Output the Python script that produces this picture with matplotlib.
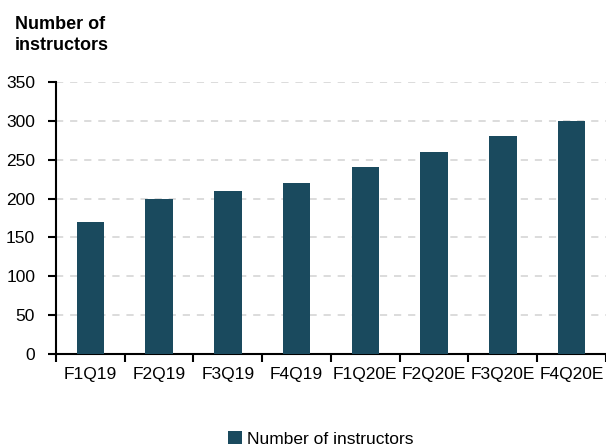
import numpy as np
import matplotlib
matplotlib.use('Agg')
from matplotlib import pyplot as plt

quarters = ['F1Q19', 'F2Q19', 'F3Q19', 'F4Q19', 'F1Q20E', 'F2Q20E', 'F3Q20E', 'F4Q20E']
instructors = [170, 200, 210, 220, 240, 260, 280, 300]
y_ticks = [0, 50, 100, 150, 200, 250, 300, 350]

plt.rcParams['font.family'] = ['Liberation Sans', 'DejaVu Sans']
bar_color = '#1a4a5e'

fig = plt.figure(figsize=(6.06, 4.48), dpi=100)
ax = fig.add_axes([0.0924, 0.2098, 0.9076, 0.6072])

x = np.arange(len(quarters))
ax.bar(x, instructors, width=0.4, color=bar_color, label='Number of instructors', zorder=3)

ax.set_xlim(-0.5, len(quarters) - 0.5)
ax.set_ylim(0, 350)
ax.set_yticks(y_ticks)
ax.tick_params(axis='y', labelsize=12.5, length=6, width=1.5, direction='out', pad=9)

# category labels centred under bars, tick marks on the boundaries
ax.set_xticks(np.arange(len(quarters) + 1) - 0.5)
ax.set_xticklabels([])
ax.set_xticks(x, minor=True)
ax.set_xticklabels(quarters, minor=True, fontsize=12.5)
ax.tick_params(axis='x', which='major', length=6, width=1.5, direction='out')
ax.tick_params(axis='x', which='minor', length=0, pad=9)

ax.grid(axis='y', color='#d9d9d9', linestyle=(0, (4, 3.8)), linewidth=1.3, zorder=0)
for s in ['top', 'right']:
    ax.spines[s].set_visible(False)
ax.spines['left'].set_linewidth(1.5)
ax.spines['bottom'].set_linewidth(1.5)

fig.text(0.025, 0.965, 'Number of\ninstructors', fontsize=13, fontweight='bold',
         ha='left', va='top', linespacing=1.3)

fig.legend(loc='center', bbox_to_anchor=(0.53, 0.02), frameon=False, fontsize=12.5,
           handlelength=0.8, handleheight=0.8, handletextpad=0.3)

fig.savefig('out.png', dpi=100)
